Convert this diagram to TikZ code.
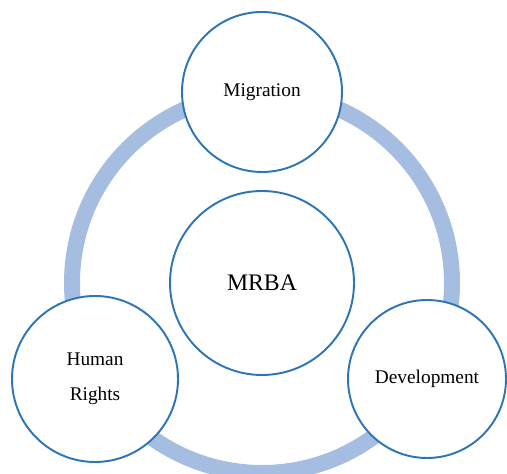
\documentclass[tikz,border=0pt]{standalone}
\usepackage{fontspec}
\setmainfont{Liberation Serif}
\definecolor{ringblue}{RGB}{164,189,225}
\definecolor{edgeblue}{RGB}{46,117,182}

\def\ringrad{3.8cm}

\begin{document}
\begin{tikzpicture}
        \tikzstyle{topic}=[circle,draw=edgeblue,line width=1.1pt,fill=white,align=center,font=\fontsize{11}{20}\selectfont]
        \tikzstyle{ring}=[draw=ringblue,line width=0.32cm]

        \useasboundingbox (0,0) rectangle (10.14,9.48);

        % outer ring behind the circles
        \coordinate (hub) at (5.24,3.82);
        \draw[ring] (hub) circle (\ringrad);

        % the centre and the three topics
        \node[topic, minimum size=3.68cm, font=\fontsize{13.5}{16}\selectfont] (mrba) at (hub) {MRBA};
        \node[topic, minimum size=3.2cm] (mig) at (5.24,7.64) {Migration};
        \node[topic, minimum size=3.32cm] (hr) at (1.9,1.9) {Human\\Rights};
        \node[topic, minimum size=3.16cm] (dev) at (8.54,1.9) {Development};
    \end{tikzpicture}
\end{document}
